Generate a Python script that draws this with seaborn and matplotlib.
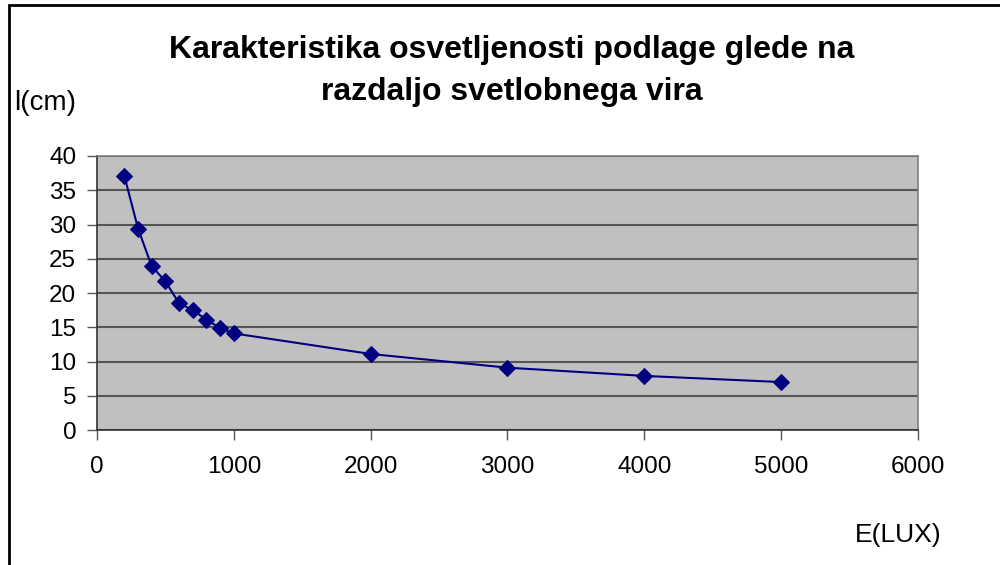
import numpy as np
import pandas as pd
import matplotlib
matplotlib.use("Agg")
import matplotlib.pyplot as plt
import seaborn as sns
from matplotlib.patches import Rectangle

# Data
illuminance = [200, 300, 400, 500, 600, 700, 800, 900, 1000, 2000, 3000, 4000, 5000]
distance = [37.1, 29.4, 23.9, 21.7, 18.5, 17.5, 16.1, 14.9, 14.1, 11.1, 9.1, 7.9, 7.0]

title = "Karakteristika osvetljenosti podlage glede na\nrazdaljo svetlobnega vira"
xlabel = "E(LUX)"
ylabel = "l(cm)"

df = pd.DataFrame({"E": illuminance, "l": distance})

sns.set_style("white")
plt.rcParams["font.family"] = ["Liberation Sans", "DejaVu Sans"]
plt.rcParams["text.color"] = "black"

fig = plt.figure(figsize=(10, 5.65), dpi=100)
ax = fig.add_axes([0.097, 0.2389, 0.821, 0.485])
ax.set_facecolor("#C0C0C0")

sns.lineplot(data=df, x="E", y="l", ax=ax, color="#000080", lw=1.5,
             marker="D", markersize=8.5, markeredgecolor="#000080")

ax.set_xlim(0, 6000)
ax.set_ylim(0, 40)
ax.set_xticks(np.arange(0, 6001, 1000))
ax.set_yticks(np.arange(0, 41, 5))
ax.yaxis.grid(True, color="#555555", lw=1.5)
ax.xaxis.grid(False)
ax.set_axisbelow(True)
ax.tick_params(axis="both", labelsize=17.5, length=7, width=1, color="#555555",
               labelcolor="black", direction="out", left=True, bottom=True)
ax.tick_params(axis="y", pad=8)
ax.tick_params(axis="x", pad=12)
for side in ["left", "bottom"]:
    ax.spines[side].set_color("#333333")
    ax.spines[side].set_linewidth(1.2)
for side in ["top", "right"]:
    ax.spines[side].set_color("#808080")
    ax.spines[side].set_linewidth(1.2)
ax.set_xlabel("")
ax.set_ylabel("")

fig.text(0.512, 0.874, title, ha="center", va="center", fontsize=23,
         fontweight="bold", linespacing=1.53)
fig.text(0.014, 0.818, ylabel, ha="left", va="center", fontsize=20)
fig.text(0.898, 0.053, xlabel, ha="center", va="center", fontsize=19)

# outer chart frame
fig.patches.append(Rectangle((0.009, -0.1), 1.2, 1.091, transform=fig.transFigure,
                             fill=False, ec="black", lw=2, clip_on=False))

fig.savefig("out.png", dpi=100)
